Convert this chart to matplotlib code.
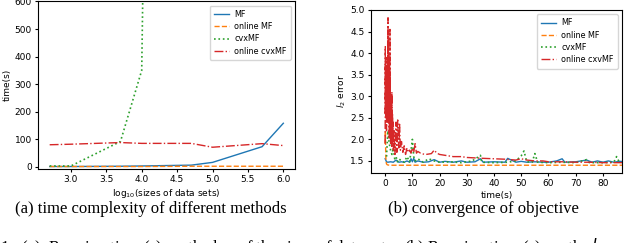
import matplotlib
matplotlib.use("Agg")
import matplotlib.pyplot as plt

# ---------------- data: left panel ----------------
log_sizes = [2.7, 3.0, 3.7, 4.0, 4.7, 5.0, 5.7, 6.0]
time_mf = [1, 1, 2, 3, 6, 16, 73, 158]
time_online_mf = [1, 1, 1, 1, 2, 2, 2, 2]
time_cvxmf = [3, 3, 92, 350, 13000]
log_sizes_cvx = [2.7, 3.0, 3.7, 4.0, 4.7]
time_online_cvxmf = [80, 82, 88, 85, 85, 71, 84, 77]

# ---------------- data: right panel ----------------
t_mf = [0.0, 0.5, 1.0, 2.0, 3.0, 4.0, 5.0, 6.0, 7.0, 8.0, 9.0, 9.5, 10.0, 10.5, 11.0,
        12.0, 14.0, 16.0, 18.0, 20.0, 22.0, 25.0, 28.0, 30.0, 33.0, 35.0, 36.0, 40.0,
        44.0, 45.0, 48.0, 50.0, 52.0, 55.0, 58.0, 60.0, 63.0, 65.0, 66.0, 70.0, 74.0,
        76.0, 78.0, 80.0, 82.0, 84.0, 86.0, 90.0]
err_mf = [1.55, 1.48, 1.47, 1.48, 1.47, 1.52, 1.47, 1.48, 1.47, 1.5, 1.47, 1.55, 1.48,
          1.56, 1.47, 1.5, 1.47, 1.48, 1.53, 1.47, 1.49, 1.47, 1.5, 1.47, 1.48, 1.55,
          1.47, 1.48, 1.47, 1.56, 1.47, 1.49, 1.47, 1.48, 1.47, 1.47, 1.5, 1.55, 1.47,
          1.48, 1.52, 1.47, 1.5, 1.47, 1.5, 1.47, 1.49, 1.48]

t_online_mf = [0.0, 0.1, 0.2, 0.3, 0.5, 0.8, 1.5, 90.0]
err_online_mf = [1.9, 2.2, 1.7, 1.5, 1.43, 1.41, 1.4, 1.4]

t_cvxmf = [0.5, 1.0, 1.5, 2.0, 2.5, 3.0, 3.5, 4.0, 4.5, 5.0, 6.0, 7.0, 8.0, 9.0, 10.0,
           10.5, 11.0, 12.0, 14.0, 16.0, 18.0, 20.0, 24.0, 28.0, 32.0, 35.0, 35.5, 40.0,
           45.0, 48.0, 50.0, 51.0, 52.0, 54.0, 55.0, 56.0, 60.0, 65.0, 70.0, 74.0, 75.0,
           80.0, 84.0, 85.0, 86.0]
err_cvxmf = [1.6, 2.2, 1.9, 1.75, 1.65, 1.8, 1.55, 1.6, 1.48, 1.55, 1.5, 1.47, 1.6,
             1.48, 2.0, 1.6, 1.5, 1.55, 1.47, 1.55, 1.5, 1.47, 1.48, 1.46, 1.5, 1.63,
             1.47, 1.46, 1.47, 1.5, 1.62, 1.73, 1.48, 1.47, 1.67, 1.47, 1.46, 1.47,
             1.46, 1.53, 1.46, 1.46, 1.47, 1.6, 1.47]

t_online_cvxmf = [0.0, 0.05, 0.1, 0.15, 0.2, 0.25, 0.3, 0.35, 0.4, 0.45, 0.5, 0.55, 0.6,
                  0.65, 0.7, 0.75, 0.8, 0.85, 0.9, 0.95, 1.0, 1.05, 1.1, 1.15, 1.2, 1.25,
                  1.3, 1.35, 1.4, 1.45, 1.5, 1.55, 1.6, 1.65, 1.7, 1.75, 1.8, 1.85, 1.9,
                  1.95, 2.0, 2.1, 2.2, 2.3, 2.4, 2.5, 2.6, 2.7, 2.8, 2.9, 3.0, 3.3, 3.6,
                  4.0, 4.3, 4.6, 5.0, 5.3, 5.6, 6.0, 6.5, 7.0, 7.5, 8.0, 8.5, 9.0, 9.5,
                  10.0, 10.5, 11.0, 11.5, 12.0, 13.0, 14.0, 15.0, 16.0, 17.0, 18.0, 19.0,
                  20.0, 22.0, 25.0, 28.0, 30.0, 33.0, 36.0, 40.0, 44.0, 46.0, 48.0, 50.0,
                  52.0, 55.0, 58.0, 60.0, 65.0, 70.0, 75.0, 80.0, 85.0, 90.0]
err_online_cvxmf = [1.9, 4.15, 2.6, 3.7, 2.9, 3.5, 2.5, 3.9, 2.8, 3.6, 2.2, 3.4, 2.9,
                    3.7, 2.5, 3.5, 2.9, 3.6, 2.4, 3.3, 2.6, 4.82, 3.0, 4.4, 2.7, 3.6, 2.5,
                    3.3, 2.8, 3.5, 2.0, 3.8, 2.3, 3.2, 2.7, 4.55, 2.4, 3.4, 2.8, 3.1, 1.9,
                    3.05, 2.2, 2.95, 1.8, 3.1, 2.0, 2.6, 1.9, 2.4, 1.75, 2.2, 1.65, 2.4,
                    1.7, 2.45, 1.8, 2.35, 1.75, 1.95, 1.7, 1.85, 1.65, 1.8, 1.7, 1.75,
                    1.68, 1.8, 1.7, 1.9, 1.68, 1.72, 1.68, 1.66, 1.65, 1.66, 1.67, 1.75,
                    1.68, 1.65, 1.63, 1.6, 1.6, 1.58, 1.57, 1.56, 1.55, 1.54, 1.53, 1.52,
                    1.55, 1.52, 1.5, 1.5, 1.48, 1.48, 1.47, 1.47, 1.46, 1.46, 1.46]

labels_left = ["MF", "online MF", "cvxMF", "online cvxMF"]
labels_right = ["MF", "online MF", "cvxMF", "online cxvMF"]

fs = 6.5
leg_kw = dict(loc='upper right', fontsize=5.8, handlelength=1.9, handletextpad=0.6,
              borderpad=0.55, labelspacing=0.4)

fig = plt.figure(figsize=(6.4, 2.43), dpi=100)

ax1 = fig.add_axes([38 / 640, 1 - 169 / 243, 257 / 640, 167.5 / 243])
ax1.plot(log_sizes, time_mf, '-', color='tab:blue', lw=1, label=labels_left[0])
ax1.plot(log_sizes, time_online_mf, '--', color='tab:orange', lw=1, label=labels_left[1])
ax1.plot(log_sizes_cvx, time_cvxmf, ':', color='tab:green', lw=1.2, label=labels_left[2])
ax1.plot(log_sizes, time_online_cvxmf, '-.', color='tab:red', lw=1, label=labels_left[3])
ax1.set_xlim(2.535, 6.165)
ax1.set_ylim(-8, 600)
ax1.set_xticks([3.0, 3.5, 4.0, 4.5, 5.0, 5.5, 6.0])
ax1.set_yticks([0, 100, 200, 300, 400, 500, 600])
ax1.tick_params(labelsize=fs, length=2.5, pad=2)
ax1.set_xlabel("log$_{10}$(sizes of data sets)", fontsize=fs, labelpad=2)
ax1.set_ylabel("time(s)", fontsize=fs, labelpad=2)
ax1.legend(**leg_kw)

ax2 = fig.add_axes([371 / 640, 1 - 173 / 243, 251 / 640, 163 / 243])
ax2.plot(t_mf, err_mf, '-', color='tab:blue', lw=1, label=labels_right[0])
ax2.plot(t_online_mf, err_online_mf, '--', color='tab:orange', lw=1, label=labels_right[1])
ax2.plot(t_cvxmf, err_cvxmf, ':', color='tab:green', lw=1.2, label=labels_right[2])
ax2.plot(t_online_cvxmf, err_online_cvxmf, '-.', color='tab:red', lw=1, label=labels_right[3])
ax2.set_xlim(-5.2, 87)
ax2.set_ylim(1.22, 5.0)
ax2.set_xticks([0, 10, 20, 30, 40, 50, 60, 70, 80])
ax2.set_yticks([1.5, 2.0, 2.5, 3.0, 3.5, 4.0, 4.5, 5.0])
ax2.tick_params(labelsize=fs, length=2.5, pad=2)
ax2.set_xlabel("time(s)", fontsize=fs, labelpad=2)
ax2.set_ylabel("$l_2$ error", fontsize=fs, labelpad=2)
ax2.legend(**leg_kw)

serif = ['Liberation Serif', 'DejaVu Serif']
fig.text(151 / 640, 1 - 209 / 243, "(a) time complexity of different methods",
         family=serif, fontsize=12, ha='center', va='center')
fig.text(483 / 640, 1 - 209 / 243, "(b) convergence of objective",
         family=serif, fontsize=12, ha='center', va='center')
fig.text(0.0, 1 - 236.5 / 243,
         "1:  (a)  Running time (s) vs. the log of the sizes of data sets.  (b) Running time (s) vs. the $l_2$ error of",
         family=serif, fontsize=12, ha='left', va='top')

fig.savefig("out.png", dpi=100)
